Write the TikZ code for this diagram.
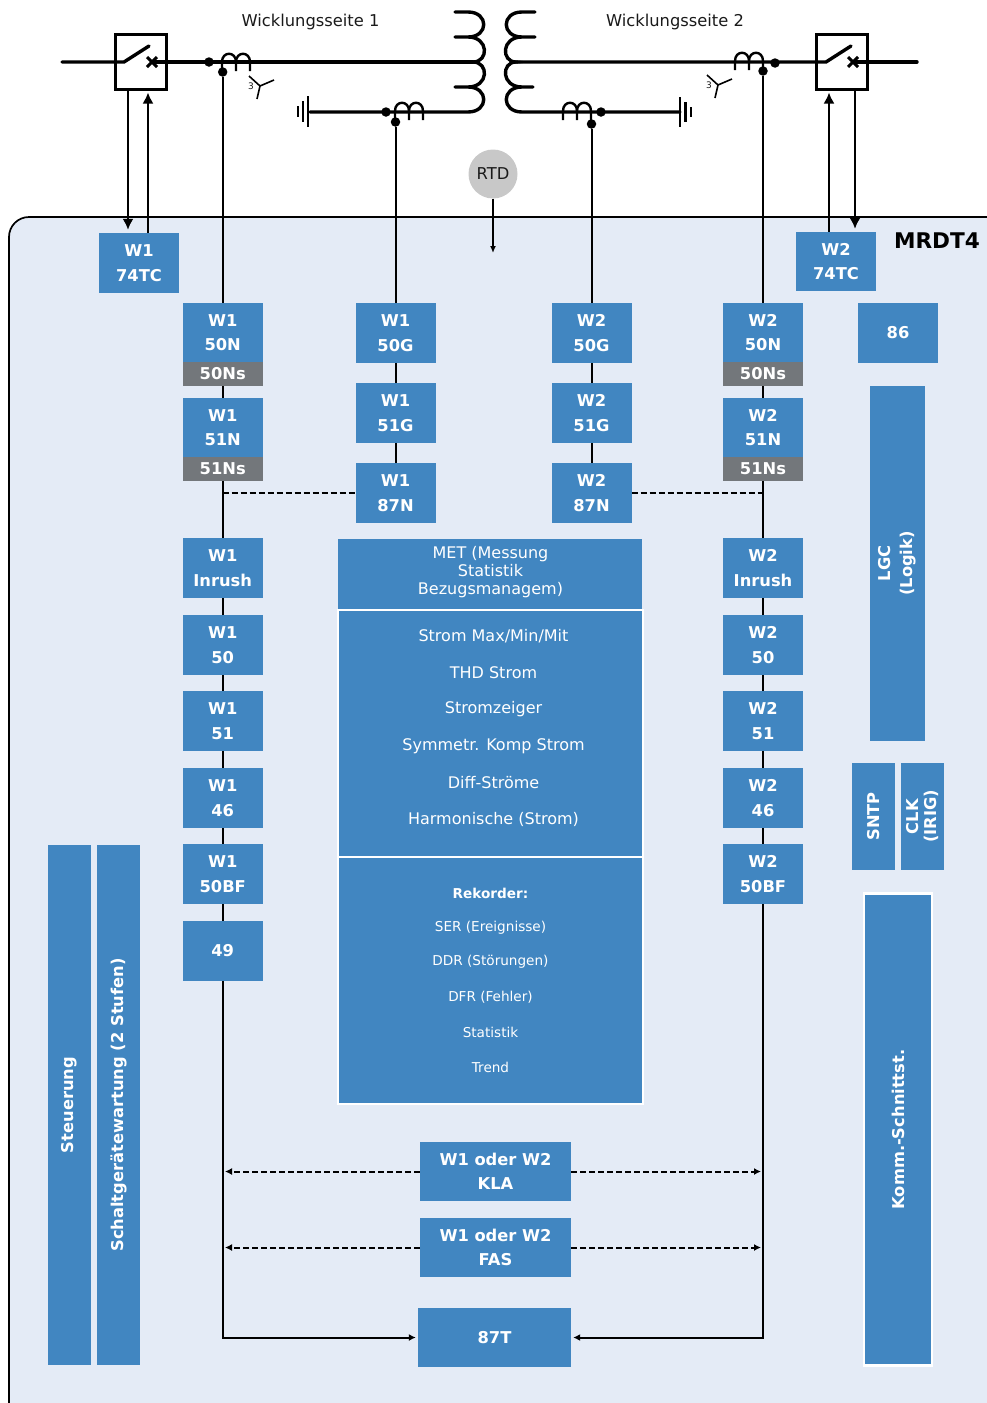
\documentclass[tikz,border=0pt]{standalone}
\usepackage{fontspec}
\setmainfont{DejaVu Sans}
\usetikzlibrary{arrows.meta,positioning,calc}
\definecolor{PanelBlue}{HTML}{E4EBF6}
\definecolor{RelayBlue}{HTML}{4186C1}
\definecolor{SensGrey}{HTML}{73777B}
\definecolor{RtdGrey}{HTML}{C8C8C8}
\definecolor{TextDark}{HTML}{1A1A1A}
\tikzset{
  relay/.style={fill=RelayBlue,text=white,align=center,inner sep=0pt,minimum width=80pt,minimum height=60pt,
    font=\fontsize{16.3}{24.5}\selectfont\bfseries},
  sens/.style={relay,fill=SensGrey,minimum height=24pt},
  vbar/.style={relay,rotate=90},
  rowtext/.style={text=white,inner sep=0pt,font=\fontsize{16}{18}\selectfont},
  smalltext/.style={text=white,inner sep=0pt,font=\fontsize{13.6}{16}\selectfont},
  sidetext/.style={text=TextDark,inner sep=0pt,font=\fontsize{16.3}{20}\selectfont},
  bus/.style={line width=3.4pt,line cap=round},
  wire/.style={line width=2pt},
  dot/.style={circle,fill=black,inner sep=0pt,minimum size=9.5pt},
  bigarrow/.style={wire,-{Latex[length=11pt,width=11pt]}},
  tinyarrow/.style={wire,-{Latex[length=7pt,width=7pt]}},
  tie/.style={wire,dash pattern=on 6pt off 3pt},
  breaker/.style={draw,line width=3pt,inner sep=0pt,minimum width=51pt,minimum height=55pt},
  ctcoil/.pic={
    \draw[line width=2.4pt] (0,0) -- (0,-9) .. controls (0,-20) and (14,-20) .. (14,-9) -- (14,0)
      (14,-9) .. controls (14,-20) and (28,-20) .. (28,-9) -- (28,0);
  },
  ctstar/.pic={
    \draw[line width=1.6pt] (-11,-10) -- (0,0) -- (14,-6) (0,0) -- (-3,13);
    \node[text=TextDark,inner sep=0pt,font=\fontsize{9}{9}\selectfont] at (-9,0) {3};
  }
}
\begin{document}
\begin{tikzpicture}[x=1pt,y=-1pt]
  \useasboundingbox (0,0) rectangle (987,1403);
  \clip (0,0) rectangle (987,1403);
  % Panel
  \draw[line width=1.7pt,fill=PanelBlue,rounded corners=20pt] (9,217) rectangle (1030,1425);
  \node[inner sep=0pt,font=\fontsize{21.6}{24}\selectfont\bfseries] (title) at (937,241) {MRDT4};
  \node[sidetext] (side1) at (310.5,22) {Wicklungsseite 1};
  \node[sidetext] (side2) at (675,22) {Wicklungsseite 2};

  % Winding side 1
  \node[breaker] (brk1) at (140.5,61.5) {};
  \node[breaker] (brk2) at (841.5,61.5) {};
  \coordinate (feed1) at (62,62);
  \coordinate (sw1a) at (124,62);
  \coordinate (sw1b) at (149,46);
  \coordinate (sw1c) at (152,62);
  \coordinate (wind1) at (473,62);
  \draw[bus] (feed1) -- (sw1a) -- (sw1b);
  \draw[bus] (sw1c) -- (wind1);
  \draw[line width=3pt] ($(sw1c)+(-5,-5)$) -- ($(sw1c)+(5,5)$) ($(sw1c)+(-5,5)$) -- ($(sw1c)+(5,-5)$);
  \node[dot] (bd1) at (209,62) {};
  \node[dot] (cd1) at (222.7,72) {};
  \pic at (222,71) {ctcoil};
  \pic at (260,86) {ctstar};

  % Winding side 2
  \coordinate (feed2) at (917,62);
  \coordinate (sw2a) at (826,62);
  \coordinate (sw2b) at (851,46);
  \coordinate (sw2c) at (853,62);
  \coordinate (wind2) at (516,62);
  \draw[bus] (wind2) -- (sw2a) -- (sw2b);
  \draw[bus] (sw2c) -- (feed2);
  \draw[line width=3pt] ($(sw2c)+(-5,-5)$) -- ($(sw2c)+(5,5)$) ($(sw2c)+(-5,5)$) -- ($(sw2c)+(5,-5)$);
  \node[dot] (bd2) at (775,63) {};
  \node[dot] (cd2) at (763,71) {};
  \pic at (735,70) {ctcoil};
  \pic at (718,85) {ctstar};

  % Transformer
  \draw[line width=3.4pt,line cap=round] (455,12) -- (468,12) .. controls (489,12) and (489,37) .. (468,37) -- (455,37)
    (468,37) .. controls (489,37) and (489,62) .. (473,62)
    .. controls (489,62) and (489,87) .. (468,87) -- (455,87)
    (468,87) .. controls (489,87) and (489,112) .. (468,112) -- (310,112);
  \draw[line width=3.4pt,line cap=round] (535,12) -- (522,12) .. controls (501,12) and (501,37) .. (522,37) -- (535,37)
    (522,37) .. controls (501,37) and (501,62) .. (516,62)
    .. controls (501,62) and (501,87) .. (522,87) -- (533,87)
    (522,87) .. controls (501,87) and (501,112) .. (522,112) -- (680,112);

  % Earthing
  \draw[line width=2.6pt] (308,96) -- (308,127) (303,101) -- (303,122) (298,106) -- (298,117);
  \draw[line width=2.6pt] (680,97) -- (680,127) (685.5,102) -- (685.5,122) (691,107) -- (691,117);
  \node[dot] (ed1) at (386,112) {};
  \node[dot] (gd1) at (395.5,122) {};
  \pic at (395,120) {ctcoil};
  \node[dot] (ed2) at (601,112) {};
  \node[dot] (gd2) at (591.5,124) {};
  \pic at (563,120) {ctcoil};

  % RTD
  \node[circle,fill=RtdGrey,inner sep=0pt,minimum size=49pt,text=TextDark,font=\fontsize{16.3}{20}\selectfont] (rtd) at (493,174) {RTD};
  \coordinate (rtdend) at (493,253);
  \draw[line width=1.6pt,-{Latex[length=7pt,width=6pt]}] (rtd) -- (rtdend);

  % Trip coils
  \node[relay] (w1tc) at (139,263) {W1\\74TC};
  \node[relay,minimum height=59pt] (w2tc) at (836,261.5) {W2\\74TC};
  \draw[bigarrow,shorten >=3pt] ([xshift=-12.5pt]brk1.south) -- ([xshift=-11pt]w1tc.north);
  \draw[bigarrow,shorten >=2pt] ([xshift=9pt]w1tc.north) -- ([xshift=7.5pt]brk1.south);
  \draw[bigarrow,shorten >=2pt] ([xshift=-7pt]w2tc.north) -- ([xshift=-12.5pt]brk2.south);
  \draw[bigarrow,shorten >=3pt] ([xshift=13.5pt]brk2.south) -- ([xshift=19pt]w2tc.north);

  % Phase columns
  \foreach \w/\cx in {1/222.7,2/763}{
    \node[relay,minimum height=59pt] (w\w n50) at (\cx,332.5) {W\w\\50N};
    \node[sens] (w\w s50) at (\cx,374) {50Ns};
    \node[relay,minimum height=59pt] (w\w n51) at (\cx,427.5) {W\w\\51N};
    \node[sens] (w\w s51) at (\cx,469) {51Ns};
    \foreach \n/\t/\y in {inr/Inrush/568,p50/50/645,p51/51/721,p46/46/798,pbf/50BF/874}{
      \node[relay] (w\w\n) at (\cx,\y) {W\w\\\t};
    }
    \draw[wire] (cd\w) -- (w\w n50);
    \draw[wire] (w\w s50) -- (w\w n51);
    \draw[wire] (w\w s51) -- (w\w inr) -- (w\w p50) -- (w\w p51) -- (w\w p46) -- (w\w pbf);
  }
  \node[relay] (w149) at (222.7,951) {49};
  \draw[wire] (w1pbf) -- (w149);

  % Ground columns
  \foreach \w/\cx in {1/395.5,2/591.5}{
    \node[relay] (w\w g50) at (\cx,333) {W\w\\50G};
    \node[relay] (w\w g51) at (\cx,413) {W\w\\51G};
    \node[relay] (w\w g87) at (\cx,493) {W\w\\87N};
    \draw[wire] (gd\w) -- (w\w g50) -- (w\w g51) -- (w\w g87);
  }
  \coordinate (tie1) at (222.7,493);
  \coordinate (tie2) at (763,493);
  \draw[tie] (tie1) -- (w1g87);
  \draw[tie] (w2g87) -- (tie2);

  % Measuring and recorder
  \node[relay,minimum width=304pt,minimum height=70pt] (met) at (490,574) {};
  \node[rowtext,align=center] (mettext) at (490.5,572) {MET (Messung\\Statistik\\Bezugsmanagem)};
  \node[relay,draw=white,line width=1.5pt,minimum width=305pt,minimum height=247pt] (strom) at (490.5,733.5) {};
  \foreach \t/\y [count=\i] in {{Strom Max/Min/Mit}/636.5,THD Strom/673,Stromzeiger/709.5,Symmetr. Komp Strom/746,Diff-Str\"ome/782.5,Harmonische (Strom)/819}{
    \node[rowtext] (row\i) at (493.5,\y) {\t};
  }
  \node[relay,draw=white,line width=1.5pt,minimum width=305pt,minimum height=247pt] (rek) at (490.5,980.5) {};
  \node[smalltext,font=\fontsize{13.6}{16}\selectfont\bfseries] (rekhead) at (490.5,893) {Rekorder:};
  \foreach \t/\y [count=\i] in {SER (Ereignisse)/928,DDR (St\"orungen)/962,DFR (Fehler)/997,Statistik/1032,Trend/1067}{
    \node[smalltext] (rek\i) at (490.5,\y) {\t};
  }

  % Right side
  \node[relay] (r86) at (898,333) {86};
  \node[vbar,minimum width=355pt,minimum height=55pt,font=\fontsize{16.3}{22}\selectfont\bfseries] (lgc) at (897.5,563.5) {LGC\\(Logik)};
  \node[vbar,minimum width=107pt,minimum height=43pt] (sntp) at (873.5,816.5) {SNTP};
  \node[vbar,minimum width=107pt,minimum height=43pt,font=\fontsize{16.3}{18}\selectfont\bfseries] (clk) at (922.5,816.5) {CLK\\(IRIG)};
  \node[vbar,draw=white,line width=2.5pt,minimum width=472pt,minimum height=68pt] (komm) at (898,1129.5) {Komm.-Schnittst.};

  % Left side
  \node[vbar,minimum width=520pt,minimum height=43pt] (steu) at (69.5,1105) {Steuerung};
  \node[vbar,minimum width=520pt,minimum height=43pt] (schalt) at (118.5,1105) {Schaltgerätewartung (2 Stufen)};

  % Bottom
  \node[relay,minimum width=151pt,minimum height=59pt] (kla) at (495.5,1171.5) {W1 oder W2\\KLA};
  \node[relay,minimum width=151pt,minimum height=59pt] (fas) at (495.5,1247.5) {W1 oder W2\\FAS};
  \node[relay,minimum width=153pt,minimum height=59pt] (t87) at (494.5,1337.5) {87T};
  \foreach \n/\y in {kla/1171.5,fas/1247.5}{
    \coordinate (\n l) at (225,\y);
    \coordinate (\n r) at (761,\y);
    \draw[tinyarrow,dash pattern=on 6pt off 3pt] (\n.west) -- (\n l);
    \draw[tinyarrow,dash pattern=on 6pt off 3pt] (\n.east) -- (\n r);
  }
  \draw[tinyarrow,shorten >=2pt] (w149) |- (t87.west);
  \draw[tinyarrow,shorten >=2pt] (w2pbf) |- (t87.east);
\end{tikzpicture}
\end{document}
